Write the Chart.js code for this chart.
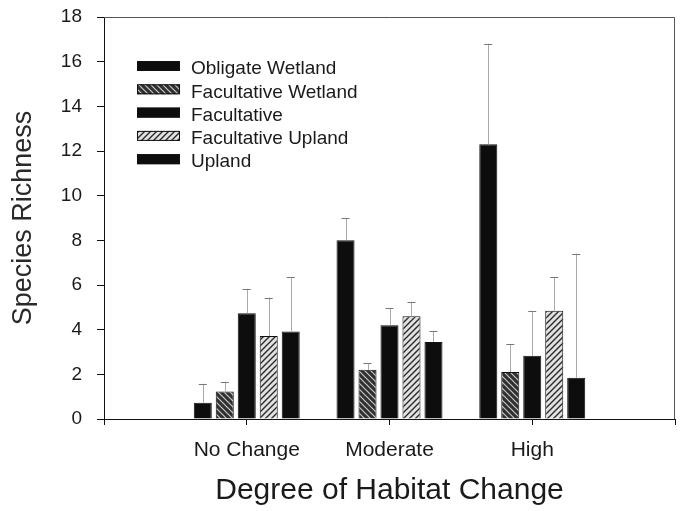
<!DOCTYPE html>
<html>
<head>
<meta charset="utf-8">
<script src="https://cdn.jsdelivr.net/npm/chart.js@4"></script>
<style>
  html, body { margin: 0; padding: 0; background: #fff; }
  #wrap { width: 680px; height: 511px; }
</style>
</head>
<body>
<div id="wrap"><canvas id="richnessChart" width="680" height="511"></canvas></div>
<script>
// empty slots at both ends keep the groups away from the frame
const categories = ["", "No Change", "Moderate", "High", ""];
const seriesNames = ["Obligate Wetland", "Facultative Wetland", "Facultative", "Facultative Upland", "Upland"];

const obligateWetland = [null, 0.73, 8.0, 12.3, null];
const facultativeWetland = [null, 1.23, 2.2, 2.1, null];
const facultative = [null, 4.74, 4.2, 2.83, null];
const facultativeUpland = [null, 3.72, 4.6, 4.85, null];
const upland = [null, 3.92, 3.45, 1.85, null];

// upper error (standard error) for each bar
const obligateWetlandErr = [null, 0.85, 1.0, 4.5, null];
const facultativeWetlandErr = [null, 0.44, 0.3, 1.25, null];
const facultativeErr = [null, 1.09, 0.75, 2.0, null];
const facultativeUplandErr = [null, 1.72, 0.65, 1.5, null];
const uplandErr = [null, 2.42, 0.5, 5.55, null];

const yTicks = [0, 2, 4, 6, 8, 10, 12, 14, 16, 18];

const fontFamily = "'Liberation Sans', Arial, sans-serif";
const textColor = "#1a1a1a";

function makeHatch(bg, fg, dir, lw) {
  let size = 6;
  let c = document.createElement("canvas");
  c.width = size;
  c.height = size;
  let ctx = c.getContext("2d");
  ctx.fillStyle = bg;
  ctx.fillRect(0, 0, size, size);
  ctx.strokeStyle = fg;
  ctx.lineWidth = lw;
  ctx.beginPath();
  if (dir === "/") {
    ctx.moveTo(0, size); ctx.lineTo(size, 0);
    ctx.moveTo(-1, 1); ctx.lineTo(1, -1);
    ctx.moveTo(size - 1, size + 1); ctx.lineTo(size + 1, size - 1);
  } else {
    ctx.moveTo(0, 0); ctx.lineTo(size, size);
    ctx.moveTo(-1, size - 1); ctx.lineTo(1, size + 1);
    ctx.moveTo(size - 1, -1); ctx.lineTo(size + 1, 1);
  }
  ctx.stroke();
  return ctx.createPattern(c, "repeat");
}

const solidFill = "#0d0d0d";
const wetHatch = makeHatch("#303030", "#c8c8c8", "\\", 1.2);
const uplandHatch = makeHatch("#e2e2e2", "#2a2a2a", "/", 1.4);

const errorBarPlugin = {
  id: "errorBars",
  afterDatasetsDraw(chart) {
    let ctx = chart.ctx;
    let yScale = chart.scales.y;
    ctx.save();
    chart.data.datasets.forEach((ds, i) => {
      let meta = chart.getDatasetMeta(i);
      meta.data.forEach((bar, j) => {
        let v = ds.data[j];
        let e = ds.errors[j];
        if (v == null || e == null) return;
        let yTop = yScale.getPixelForValue(v + e);
        let yBar = yScale.getPixelForValue(v);
        ctx.strokeStyle = "#aaa";
        ctx.lineWidth = 1;
        ctx.beginPath();
        ctx.moveTo(Math.round(bar.x) + 0.5, yBar);
        ctx.lineTo(Math.round(bar.x) + 0.5, yTop);
        ctx.stroke();
        ctx.strokeStyle = "#777";
        ctx.beginPath();
        ctx.moveTo(bar.x - 4, Math.round(yTop) + 0.5);
        ctx.lineTo(bar.x + 4, Math.round(yTop) + 0.5);
        ctx.stroke();
      });
    });
    ctx.restore();
  },
};

const framePlugin = {
  id: "frame",
  beforeDatasetsDraw(chart) {
    let a = chart.chartArea;
    let ctx = chart.ctx;
    ctx.save();
    ctx.strokeStyle = "#555";
    ctx.lineWidth = 1;
    ctx.beginPath();
    ctx.moveTo(a.left, a.top + 0.5);
    ctx.lineTo(a.right - 0.5, a.top + 0.5);
    ctx.lineTo(a.right - 0.5, a.bottom);
    ctx.stroke();
    ctx.restore();
  },
};

const insideLegendPlugin = {
  id: "insideLegend",
  afterDraw(chart) {
    let a = chart.chartArea;
    let ctx = chart.ctx;
    ctx.save();
    ctx.font = "19px " + fontFamily;
    ctx.textBaseline = "middle";
    chart.data.datasets.forEach((ds, i) => {
      let x = a.left + 33;
      let y = a.top + 49 + i * 23.3;
      ctx.fillStyle = ds.backgroundColor;
      ctx.fillRect(x, y - 5, 43, 10);
      ctx.strokeStyle = "#111";
      ctx.lineWidth = 1;
      ctx.strokeRect(x + 0.5, y - 4.5, 42, 9);
      ctx.fillStyle = textColor;
      ctx.fillText(ds.label, x + 54, y + 3);
    });
    ctx.restore();
  },
};

function buildDataset(label, data, errors, fill) {
  return {
    label: label,
    data: data,
    errors: errors,
    backgroundColor: fill,
    borderColor: "#111",
    borderWidth: 1,
    categoryPercentage: 0.77,
    barPercentage: 0.82,
  };
}

function buildChart() {
  new Chart(document.getElementById("richnessChart").getContext("2d"), {
    type: "bar",
    data: {
      labels: categories,
      datasets: [
        buildDataset(seriesNames[0], obligateWetland, obligateWetlandErr, solidFill),
        buildDataset(seriesNames[1], facultativeWetland, facultativeWetlandErr, wetHatch),
        buildDataset(seriesNames[2], facultative, facultativeErr, solidFill),
        buildDataset(seriesNames[3], facultativeUpland, facultativeUplandErr, uplandHatch),
        buildDataset(seriesNames[4], upland, uplandErr, solidFill),
      ],
    },
    options: {
      responsive: false,
      animation: false,
      layout: { padding: { top: 17, right: 5, left: 0, bottom: 0 } },
      plugins: {
        legend: { display: false },
        tooltip: { enabled: false },
      },
      scales: {
        x: {
          offset: false,
          grid: {
            display: true,
            offset: false,
            drawOnChartArea: false,
            tickLength: 6,
            color: "#111",
          },
          border: { display: true, color: "#111", width: 1 },
          ticks: {
            color: textColor,
            font: { family: fontFamily, size: 21 },
            padding: 13,
            maxRotation: 0,
            autoSkip: false,
          },
          title: {
            display: true,
            text: "Degree of Habitat Change",
            color: textColor,
            font: { family: fontFamily, size: 30 },
            padding: { top: 0, bottom: 2 },
          },
          afterFit(scale) {
            scale.height = 92;
            scale.paddingLeft = 0;
            scale.paddingRight = 0;
          },
        },
        y: {
          min: 0,
          max: 18,
          afterBuildTicks(scale) {
            scale.ticks = yTicks.map((v) => ({ value: v }));
          },
          grid: {
            display: true,
            drawOnChartArea: false,
            tickLength: 7,
            color: "#111",
          },
          border: { display: true, color: "#111", width: 1 },
          ticks: {
            color: textColor,
            font: { family: fontFamily, size: 19 },
            padding: 15,
          },
          title: {
            display: true,
            text: "Species Richness",
            color: "#2a2a2a",
            font: { family: fontFamily, size: 27 },
            padding: { top: 7, bottom: 0 },
          },
          afterFit(scale) {
            scale.width = 104;
            scale.paddingTop = 0;
            scale.paddingBottom = 0;
          },
        },
      },
    },
    plugins: [framePlugin, errorBarPlugin, insideLegendPlugin],
  });
}

buildChart();
</script>
</body>
</html>
